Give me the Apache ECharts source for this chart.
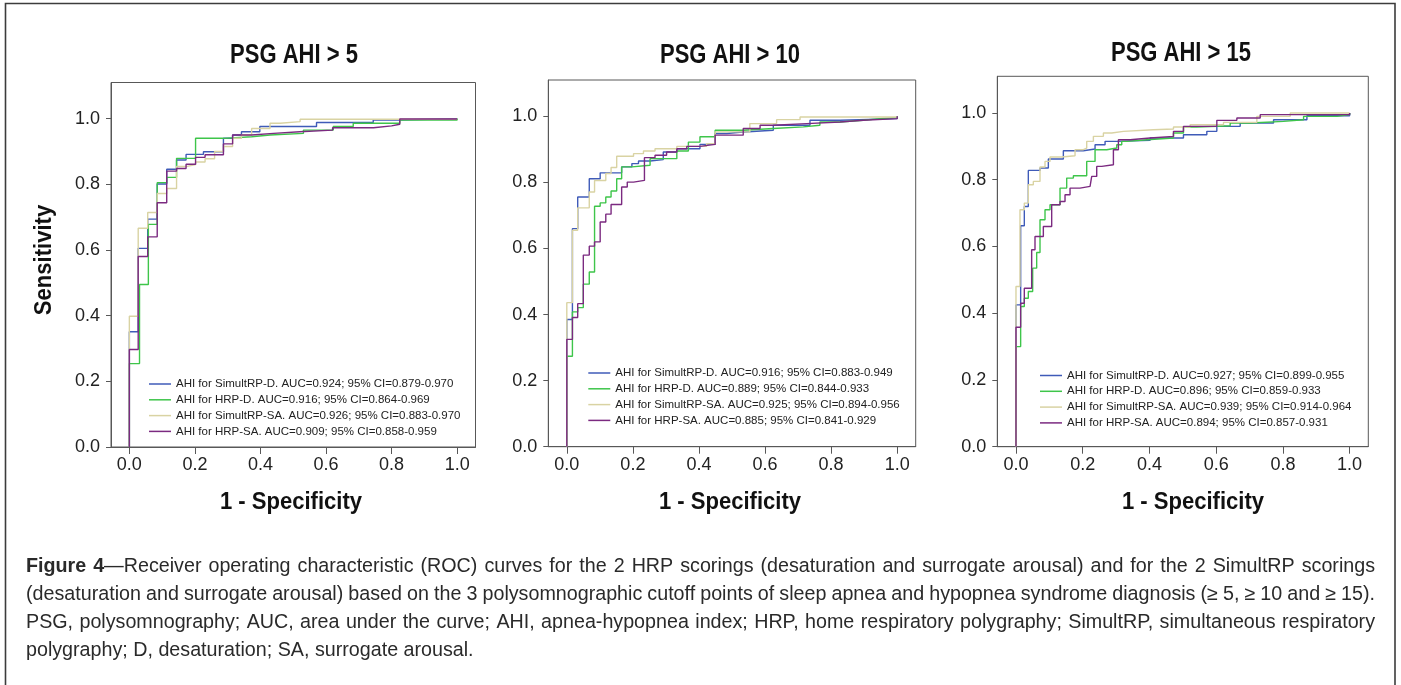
<!DOCTYPE html>
<html>
<head>
<meta charset="utf-8">
<script src="https://cdn.jsdelivr.net/npm/echarts@6/dist/echarts.min.js"></script>
<style>html,body{margin:0;padding:0;background:#fff;}#chart{width:1401px;height:685px;}</style>
</head>
<body>
<div id="chart"></div>
<script>
// ---------- data ----------
const panelTitles = ['PSG AHI > 5', 'PSG AHI > 10', 'PSG AHI > 15'];
const tickValues = [0, 0.2, 0.4, 0.6, 0.8, 1.0];
const xAxisTitle = '1 - Specificity';
const yAxisTitle = 'Sensitivity';
const seriesColors = ['#3f5bb8', '#3ec54a', '#d9d3a3', '#7b2a80'];

const namesP1 = [
  'AHI for SimultRP-D. AUC=0.924; 95% CI=0.879-0.970',
  'AHI for HRP-D. AUC=0.916; 95% CI=0.864-0.969',
  'AHI for SimultRP-SA. AUC=0.926; 95% CI=0.883-0.970',
  'AHI for HRP-SA. AUC=0.909; 95% CI=0.858-0.959'
];
const namesP2 = [
  'AHI for SimultRP-D. AUC=0.916; 95% CI=0.883-0.949',
  'AHI for HRP-D. AUC=0.889; 95% CI=0.844-0.933',
  'AHI for SimultRP-SA. AUC=0.925; 95% CI=0.894-0.956',
  'AHI for HRP-SA. AUC=0.885; 95% CI=0.841-0.929'
];
const namesP3 = [
  'AHI for SimultRP-D. AUC=0.927; 95% CI=0.899-0.955',
  'AHI for HRP-D. AUC=0.896; 95% CI=0.859-0.933',
  'AHI for SimultRP-SA. AUC=0.939; 95% CI=0.914-0.964',
  'AHI for HRP-SA. AUC=0.894; 95% CI=0.857-0.931'
];

// ROC points [1-specificity, sensitivity] (top of each vertical step)
const p1SimultD = [[0,0.351],[0.027,0.605],[0.056,0.694],[0.085,0.801],[0.114,0.846],[0.144,0.874],[0.173,0.891],[0.226,0.899],[0.287,0.94],[0.315,0.95],[0.342,0.96],[0.398,0.976],[0.571,0.988],[0.744,0.996],[0.825,1],[1,1]];
const p1HrpD = [[0,0.254],[0.031,0.495],[0.058,0.678],[0.085,0.805],[0.114,0.821],[0.144,0.879],[0.202,0.94],[0.287,0.945],[0.373,0.95],[0.429,0.955],[0.531,0.965],[0.622,0.976],[0.683,0.986],[0.825,0.996],[1,1]];
const p1SimultSA = [[0,0.398],[0.027,0.666],[0.056,0.714],[0.085,0.772],[0.114,0.787],[0.144,0.854],[0.173,0.86],[0.202,0.868],[0.231,0.878],[0.26,0.9],[0.287,0.915],[0.315,0.94],[0.342,0.95],[0.373,0.97],[0.429,0.986],[0.46,0.991],[0.521,0.998],[1,1]];
const p1HrpSA = [[0,0.297],[0.027,0.58],[0.056,0.64],[0.085,0.744],[0.114,0.84],[0.144,0.848],[0.173,0.861],[0.202,0.882],[0.231,0.89],[0.287,0.923],[0.315,0.95],[0.373,0.955],[0.44,0.96],[0.52,0.965],[0.62,0.972],[0.745,0.978],[0.8,0.983],[0.825,0.999],[1,1]];

const p2SimultD = [[0,0.385],[0.017,0.66],[0.033,0.756],[0.068,0.811],[0.101,0.829],[0.166,0.847],[0.197,0.857],[0.217,0.865],[0.252,0.869],[0.292,0.892],[0.333,0.902],[0.403,0.915],[0.449,0.948],[0.484,0.952],[0.524,0.958],[0.625,0.973],[0.736,0.988],[0.827,0.993],[1,1]];
const p2HrpD = [[0,0.274],[0.017,0.408],[0.033,0.421],[0.05,0.492],[0.068,0.529],[0.084,0.728],[0.101,0.738],[0.118,0.756],[0.134,0.774],[0.151,0.811],[0.166,0.847],[0.197,0.852],[0.252,0.872],[0.333,0.895],[0.368,0.922],[0.403,0.938],[0.449,0.958],[0.534,0.963],[0.625,0.968],[0.716,0.973],[0.766,0.983],[0.827,0.988],[0.897,0.993],[0.948,0.996],[1,1]];
const p2SimultSA = [[0,0.436],[0.017,0.655],[0.033,0.723],[0.068,0.771],[0.084,0.806],[0.118,0.827],[0.134,0.845],[0.151,0.879],[0.202,0.887],[0.232,0.895],[0.267,0.902],[0.333,0.909],[0.423,0.917],[0.449,0.953],[0.554,0.978],[0.635,0.99],[0.706,0.998],[1,1]];
const p2HrpSA = [[0,0.325],[0.017,0.391],[0.033,0.433],[0.05,0.58],[0.068,0.607],[0.084,0.62],[0.101,0.68],[0.118,0.704],[0.134,0.733],[0.166,0.786],[0.183,0.801],[0.202,0.806],[0.235,0.875],[0.267,0.882],[0.302,0.892],[0.333,0.902],[0.363,0.909],[0.403,0.915],[0.449,0.943],[0.534,0.963],[0.585,0.973],[0.625,0.978],[0.726,0.983],[0.827,0.988],[0.897,0.993],[1,1]];

const p3SimultD = [[0,0.425],[0.014,0.662],[0.025,0.72],[0.037,0.828],[0.072,0.835],[0.097,0.862],[0.142,0.887],[0.202,0.892],[0.237,0.905],[0.267,0.915],[0.302,0.918],[0.402,0.925],[0.502,0.935],[0.572,0.945],[0.602,0.96],[0.672,0.97],[0.772,0.98],[0.872,0.992],[1,1]];
const p3HrpD = [[0,0.3],[0.014,0.42],[0.025,0.445],[0.037,0.465],[0.05,0.535],[0.062,0.582],[0.072,0.68],[0.087,0.71],[0.102,0.725],[0.132,0.775],[0.152,0.805],[0.172,0.812],[0.212,0.855],[0.237,0.89],[0.272,0.895],[0.302,0.905],[0.317,0.915],[0.332,0.92],[0.392,0.925],[0.472,0.94],[0.502,0.958],[0.542,0.962],[0.642,0.97],[0.702,0.975],[0.802,0.98],[0.862,0.99],[0.962,0.995],[1,1]];
const p3SimultSA = [[0,0.48],[0.012,0.71],[0.025,0.73],[0.037,0.785],[0.052,0.795],[0.072,0.838],[0.087,0.855],[0.102,0.868],[0.137,0.872],[0.177,0.89],[0.202,0.895],[0.212,0.915],[0.232,0.93],[0.262,0.94],[0.287,0.945],[0.322,0.95],[0.412,0.952],[0.472,0.958],[0.522,0.965],[0.622,0.972],[0.722,0.99],[0.822,1],[1,1]];
const p3HrpSA = [[0,0.358],[0.014,0.43],[0.025,0.475],[0.047,0.59],[0.057,0.63],[0.082,0.66],[0.107,0.725],[0.132,0.735],[0.147,0.755],[0.162,0.775],[0.192,0.78],[0.222,0.785],[0.227,0.81],[0.242,0.84],[0.257,0.845],[0.292,0.86],[0.292,0.89],[0.307,0.92],[0.342,0.925],[0.402,0.93],[0.472,0.945],[0.502,0.96],[0.602,0.97],[0.602,0.978],[0.662,0.985],[0.732,0.995],[1,1]];

const captionLine1 = [['Figure 4', true], ['—Receiver operating characteristic (ROC) curves for the 2 HRP scorings (desaturation and surrogate arousal) and for the 2 SimultRP scorings', false]];
const captionLine2 = [['(desaturation and surrogate arousal) based on the 3 polysomnographic cutoff points of sleep apnea and hypopnea syndrome diagnosis (≥ 5, ≥ 10 and ≥ 15).', false]];
const captionLine3 = [['PSG, polysomnography; AUC, area under the curve; AHI, apnea-hypopnea index; HRP, home respiratory polygraphy; SimultRP, simultaneous respiratory', false]];
const captionLine4 = [['polygraphy; D, desaturation; SA, surrogate arousal.', false]];

// ---------- layout / style ----------
const panels = [
  {names: namesP1, curves: [p1SimultD, p1HrpD, p1SimultSA, p1HrpSA], grid: {left: 111, top: 82.5, width: 364.5, height: 364.5}, titleX: 294, titleY: 55, xNameX: 291, legendX: 149, legendY: 378},
  {names: namesP2, curves: [p2SimultD, p2HrpD, p2SimultSA, p2HrpSA], grid: {left: 548.3, top: 80, width: 367.4, height: 366.7}, titleX: 730, titleY: 55, xNameX: 730, legendX: 588.3, legendY: 367},
  {names: namesP3, curves: [p3SimultD, p3HrpD, p3SimultSA, p3HrpSA], grid: {left: 997.3, top: 76.3, width: 371, height: 370.4}, titleX: 1181, titleY: 53, xNameX: 1193, legendX: 1040, legendY: 369.5}
];

const FONT = "'Liberation Sans', Arial, sans-serif";
const AXIS_COLOR = '#585858';

function stairs(pts) {
  const out = [[0, 0]];
  let prev = [0, 0];
  for (const p of pts) {
    if (p[0] !== prev[0]) out.push([p[0], prev[1]]);
    out.push(p);
    prev = p;
  }
  return out;
}

// condensed bold heading text (no narrow font installed: horizontally scaled)
function heading(text, x, y, size, sx, rot) {
  return {type: 'text', x: x, y: y, rotation: rot || 0, scaleX: sx, scaleY: 1, silent: true, z: 10,
    style: {text: text, fontFamily: FONT, fontWeight: 'bold', fontSize: size, fill: '#111', align: 'center', verticalAlign: 'middle'}};
}

const graphic = [{type: 'rect', shape: {x: 5.5, y: 3.5, width: 1389.5, height: 700}, style: {fill: 'none', stroke: '#3c3c3c', lineWidth: 1.6}, silent: true}];
const grid = [], xAxis = [], yAxis = [], series = [], legend = [];
panels.forEach((p, i) => {
  grid.push(Object.assign({show: true, borderColor: AXIS_COLOR, borderWidth: 1, backgroundColor: 'transparent'}, p.grid));
  xAxis.push({
    type: 'value', gridIndex: i, min: -0.056, max: 1.056,
    axisLine: {show: true, onZero: false, lineStyle: {color: AXIS_COLOR, width: 1}},
    axisTick: {show: true, customValues: tickValues, length: 7, lineStyle: {color: AXIS_COLOR}},
    axisLabel: {customValues: tickValues, formatter: v => v.toFixed(1), fontFamily: FONT, fontSize: 18, color: '#222', margin: 9},
    splitLine: {show: false}
  });
  yAxis.push({
    type: 'value', gridIndex: i, min: 0, max: 1.11,
    axisLine: {show: true, onZero: false, lineStyle: {color: AXIS_COLOR, width: 1}},
    axisTick: {show: true, customValues: tickValues, length: 5, lineStyle: {color: AXIS_COLOR}},
    axisLabel: {customValues: tickValues, formatter: v => v.toFixed(1), fontFamily: FONT, fontSize: 18, color: '#222', margin: 11},
    splitLine: {show: false}
  });
  graphic.push(heading(panelTitles[i], p.titleX, p.titleY, 27.5, 0.8));
  graphic.push(heading(xAxisTitle, p.xNameX, 502, 24.5, 0.9));
  if (i === 0) graphic.push(heading(yAxisTitle, 44, 260, 24.5, 0.9, Math.PI / 2));
  legend.push({
    data: p.names, orient: 'vertical', left: p.legendX, top: p.legendY, padding: 0,
    itemWidth: 22, itemHeight: 1.5, itemGap: 3.8, icon: 'rect', selectedMode: false,
    textStyle: {fontFamily: FONT, fontSize: 11.5, color: '#222'}
  });
  p.curves.forEach((c, k) => {
    series.push({
      type: 'line', name: p.names[k], xAxisIndex: i, yAxisIndex: i,
      data: stairs(c), symbol: 'none', showSymbol: false, clip: true,
      color: seriesColors[k],
      lineStyle: {color: seriesColors[k], width: 1.4},
      itemStyle: {color: seriesColors[k]},
      animation: false, z: 2 + k
    });
  });
});

// ---------- caption (justified) ----------
const CAP_SIZE = 19.7, CAP_LEFT = 26, CAP_RIGHT = 1375;
const capLines = [[captionLine1, 566.5, true], [captionLine2, 594.5, true], [captionLine3, 622.5, true], [captionLine4, 650.5, false]];
const mctx = document.createElement('canvas').getContext('2d');
function measure(t, bold) { mctx.font = (bold ? 'bold ' : 'normal ') + CAP_SIZE + 'px ' + FONT; return mctx.measureText(t).width; }
capLines.forEach(([runs, y, justify]) => {
  const words = [[]];
  runs.forEach(([txt, bold]) => {
    txt.split(' ').forEach((part, j) => {
      if (j > 0) words.push([]);
      if (part.length) words[words.length - 1].push([part, bold]);
    });
  });
  const ws = words.map(w => w.reduce((s, r) => s + measure(r[0], r[1]), 0));
  const total = ws.reduce((a, b) => a + b, 0);
  const gap = justify ? (CAP_RIGHT - CAP_LEFT - total) / (words.length - 1) : measure(' ', false);
  let x = CAP_LEFT;
  words.forEach(w => {
    w.forEach(([txt, bold]) => {
      graphic.push({type: 'text', x: x, y: y, silent: true,
        style: {text: txt, fontFamily: FONT, fontSize: CAP_SIZE, fontWeight: bold ? 'bold' : 'normal', fill: '#2a2a2a', verticalAlign: 'middle', align: 'left'}});
      x += measure(txt, bold);
    });
    x += gap;
  });
});

const chart = echarts.init(document.getElementById('chart'), null, {renderer: 'canvas'});
chart.setOption({animation: false, backgroundColor: '#fff', grid, xAxis, yAxis, legend, series, graphic});
</script>
</body>
</html>
